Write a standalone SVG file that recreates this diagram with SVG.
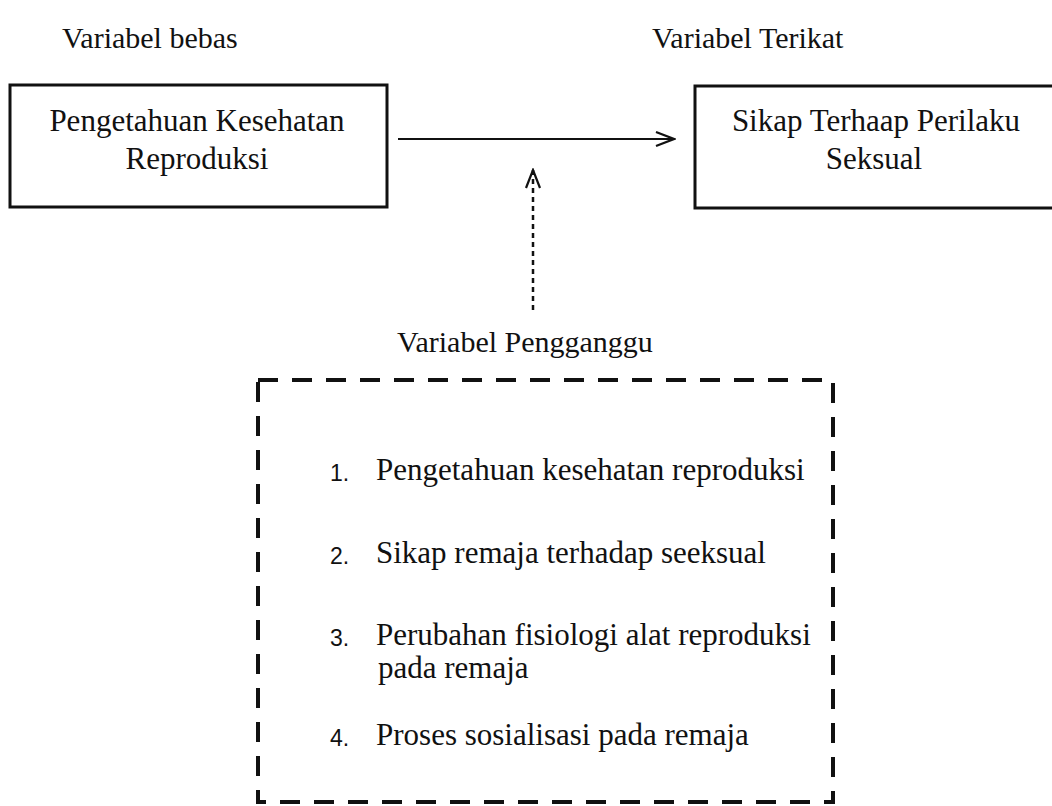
<svg xmlns="http://www.w3.org/2000/svg" width="1052" height="806" viewBox="0 0 1052 806">
<defs>
<style>
.t{font-family:"Liberation Serif","Times New Roman",serif;font-size:31px;fill:#111;}
.h{font-family:"Liberation Serif","Times New Roman",serif;font-size:30px;fill:#111;}
.n{font-family:"Liberation Sans",Arial,sans-serif;font-size:23px;fill:#111;}
.box{fill:none;stroke:#111;stroke-width:3;}
.ln{fill:none;stroke:#111;stroke-width:2;}
.dash{fill:none;stroke:#111;stroke-width:4;stroke-dasharray:20 14;}
</style>
<marker id="ah" viewBox="0 0 22 22" refX="20" refY="11" markerWidth="22" markerHeight="22" markerUnits="userSpaceOnUse" orient="auto">
<path d="M2,4 L20,11 L2,18" fill="none" stroke="#111" stroke-width="2.2"/>
</marker>
</defs>
<rect width="1052" height="806" fill="#fff"/>
<g id="label-bebas"><text class="h" x="62" y="48">Variabel bebas</text></g>
<g id="label-terikat"><text class="h" x="652" y="48">Variabel Terikat</text></g>
<g id="node-pengetahuan">
<rect class="box" x="10" y="85" width="377" height="122"/>
<text class="t" x="197" y="131" text-anchor="middle">Pengetahuan Kesehatan</text>
<text class="t" x="197" y="169" text-anchor="middle">Reproduksi</text>
</g>
<g id="node-sikap">
<rect class="box" x="695" y="86" width="370" height="122"/>
<text class="t" x="876" y="131" text-anchor="middle">Sikap Terhaap Perilaku</text>
<text class="t" x="874" y="169" text-anchor="middle">Seksual</text>
</g>
<g id="connectors">
<line class="ln" x1="398" y1="139" x2="674" y2="139" marker-end="url(#ah)"/>
<line x1="533" y1="310" x2="533" y2="170" stroke="#111" stroke-width="2.5" stroke-dasharray="5 4" marker-end="url(#ah)"/>
</g>
<g id="node-pengganggu">
<text class="h" x="525" y="352" text-anchor="middle">Variabel Pengganggu</text>
<rect class="dash" x="258" y="380" width="575" height="422"/>
<text class="n" x="330" y="481">1.</text>
<text class="t" x="376" y="480">Pengetahuan kesehatan reproduksi</text>
<text class="n" x="330" y="564">2.</text>
<text class="t" x="376" y="563">Sikap remaja terhadap seeksual</text>
<text class="n" x="330" y="646">3.</text>
<text class="t" x="376" y="645">Perubahan fisiologi alat reproduksi</text>
<text class="t" x="378" y="678">pada remaja</text>
<text class="n" x="330" y="746">4.</text>
<text class="t" x="376" y="745">Proses sosialisasi pada remaja</text>
</g>
</svg>
